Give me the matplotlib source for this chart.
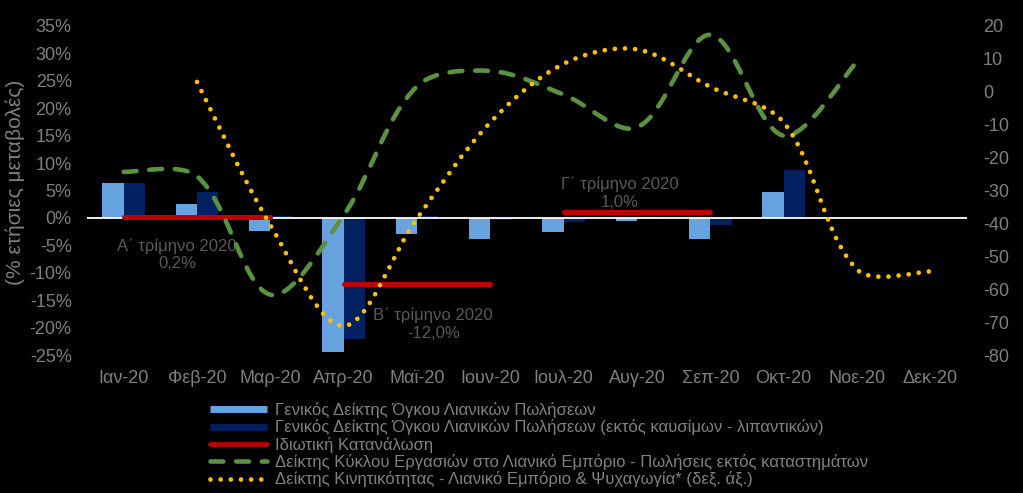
import numpy as np
import matplotlib
matplotlib.use("Agg")
import matplotlib.pyplot as plt
from matplotlib.path import Path
from matplotlib.patches import PathPatch
from matplotlib.lines import Line2D

plt.rcParams['font.family'] = ['Liberation Sans', 'DejaVu Sans']

# ---------------- data ----------------
months = ["Ιαν-20", "Φεβ-20", "Μαρ-20", "Απρ-20", "Μαϊ-20", "Ιουν-20",
          "Ιουλ-20", "Αυγ-20", "Σεπ-20", "Οκτ-20", "Νοε-20", "Δεκ-20"]

retail_volume = [6.4, 2.6, -2.3, -24.5, -2.9, -3.8, -2.6, -0.5, -3.8, 4.7, np.nan, np.nan]
retail_volume_ex_fuel = [6.4, 4.7, 0.3, -22.0, 0.3, -0.3, -0.7, 0.2, -1.3, 8.7, np.nan, np.nan]

quarter_first_month = [0, 3, 6]
quarter_last_month = [2, 5, 8]
private_consumption = [0.2, -12.0, 1.0]
quarter_labels = ["Α΄ τρίμηνο 2020\n0,2%", "Β΄ τρίμηνο 2020\n-12,0%", "Γ΄ τρίμηνο 2020\n1,0%"]

online_sales = [8.4, 7.6, -14.0, 0.5, 24.0, 26.8, 22.5, 16.5, 33.4, 15.0, 28.5, np.nan]
mobility_retail = [np.nan, 3.0, -40.5, -71.2, -38.5, -9.3, 8.5, 12.9, 1.5, -9.3, -54.0, -54.6]

legend_labels = [
    "Γενικός Δείκτης Όγκου Λιανικών Πωλήσεων",
    "Γενικός Δείκτης Όγκου Λιανικών Πωλήσεων (εκτός καυσίμων - λιπαντικών)",
    "Ιδιωτική Κατανάλωση",
    "Δείκτης Κύκλου Εργασιών στο Λιανικό Εμπόριο - Πωλήσεις εκτός καταστημάτων",
    "Δείκτης Κινητικότητας - Λιανικό Εμπόριο & Ψυχαγωγία* (δεξ. άξ.)",
]
left_ticks = list(range(-25, 36, 5))
right_ticks = list(range(-80, 21, 10))
y_label = "(% ετήσιες μεταβολές)"

# ---------------- style ----------------
C_LIGHT = "#67A3DF"
C_DARK = "#002060"
C_RED = "#C00000"
C_GREEN = "#5B9240"
C_YELLOW = "#FFC000"
C_TICK = "#7F7F7F"
C_ANN = "#595959"


def smooth_path(axis, xs, ys):
    """Excel-like smoothed line: cubic Bezier segments whose control arms are
    computed in screen space (chord-length weighted Catmull-Rom)."""
    trans = axis.transData
    pts = trans.transform(np.column_stack([xs, ys]).astype(float))
    n = len(pts)
    seg = np.linalg.norm(np.diff(pts, axis=0), axis=1)
    verts = [pts[0]]
    codes = [Path.MOVETO]
    for i in range(n - 1):
        p1, p2 = pts[i], pts[i + 1]
        d12 = seg[i]
        if i == 0:
            c1 = p1 + (p2 - p1) / 6.0
        else:
            d01 = seg[i - 1]
            c1 = p1 + (p2 - pts[i - 1]) * d12 / (d01 + d12) / 3.0
        if i + 2 >= n:
            c2 = p2 - (p2 - p1) / 6.0
        else:
            d23 = seg[i + 1]
            c2 = p2 - (pts[i + 2] - p1) * d12 / (d12 + d23) / 3.0
        verts += [c1, c2, p2]
        codes += [Path.CURVE4] * 3
    verts = trans.inverted().transform(np.array(verts))
    return Path(verts, codes)


fig = plt.figure(figsize=(10.23, 4.93), dpi=100, facecolor="black")
ax = fig.add_axes([87 / 1023, 1 - 355 / 493, 880 / 1023, 329 / 493])
ax.set_facecolor("black")
ax2 = ax.twinx()
ax2.set_facecolor("none")

x = np.arange(len(months))
ax.set_xlim(-0.5, len(months) - 0.5)
ax.set_ylim(-25, 35)
ax2.set_ylim(-80, 20)

w = 0.29
ax.bar(x - w / 2, retail_volume, w, color=C_LIGHT, zorder=2)
ax.bar(x + w / 2, retail_volume_ex_fuel, w, color=C_DARK, zorder=2)
ax.axhline(0, color="white", lw=1.3, zorder=3)

for a, b, v in zip(quarter_first_month, quarter_last_month, private_consumption):
    ax.plot([x[a], x[b]], [v, v], color=C_RED, lw=3.6, solid_capstyle="round", zorder=4)

ann_pos = [(0.73, -6.7), (4.22, -19.4), (6.77, 4.5)]
for (px, py), txt in zip(ann_pos, quarter_labels):
    ax.text(px, py, txt, ha="center", va="center", color=C_ANN, fontsize=12,
            linespacing=1.2, zorder=5)

ax.set_xlim(-0.5, len(months) - 0.5)
ax.set_ylim(-25, 35)
ax2.set_ylim(-80, 20)

g = np.array(online_sales, dtype=float)
m = ~np.isnan(g)
green_patch = PathPatch(smooth_path(ax, x[m], g[m]), fill=False, edgecolor=C_GREEN,
                        lw=3.3, linestyle=(0, (2.8, 2.8)), capstyle="round",
                        joinstyle="round", transform=ax.transData, zorder=6)
ax.add_patch(green_patch)

yv = np.array(mobility_retail, dtype=float)
m2 = ~np.isnan(yv)
yellow_patch = PathPatch(smooth_path(ax2, x[m2], yv[m2]), fill=False, edgecolor=C_YELLOW,
                         lw=3.4, linestyle=(0, (0.001, 2.15)), capstyle="round",
                         joinstyle="round", transform=ax2.transData, zorder=6)
ax2.add_patch(yellow_patch)

ax.set_xticks(x)
ax.set_xticklabels(months)
ax.set_yticks(left_ticks)
ax.set_yticklabels([f"{v}%" for v in left_ticks])
ax2.set_yticks(right_ticks)
ax2.set_yticklabels([str(v) for v in right_ticks])

for a in (ax, ax2):
    for s in a.spines.values():
        s.set_visible(False)
ax.tick_params(axis="x", length=0, pad=11, labelsize=13, labelcolor=C_TICK)
ax.tick_params(axis="y", length=0, pad=11, labelsize=13, labelcolor=C_TICK)
ax2.tick_params(axis="y", length=0, pad=11.5, labelsize=13, labelcolor=C_TICK)

fig.text(15 / 1023, 1 - 182 / 493, y_label, rotation=90, ha="center", va="center",
         color=C_TICK, fontsize=15)

handles = [
    Line2D([], [], color=C_LIGHT, lw=5, solid_capstyle="butt"),
    Line2D([], [], color=C_DARK, lw=5, solid_capstyle="butt"),
    Line2D([], [], color=C_RED, lw=3.4, solid_capstyle="round"),
    Line2D([], [], color=C_GREEN, lw=3.3, linestyle=(0, (2.8, 2.8)), dash_capstyle="round"),
    Line2D([], [], color=C_YELLOW, lw=3.4, linestyle=(0, (0.001, 2.15)), dash_capstyle="round"),
]
fig.legend(handles, legend_labels, loc="upper left",
           bbox_to_anchor=(210 / 1023, 1 - 402 / 493), frameon=False, fontsize=12,
           handlelength=3.4, handletextpad=0.5, labelspacing=0.08, borderpad=0,
           borderaxespad=0, labelcolor="#808080")

fig.savefig("out.png", dpi=100, facecolor="black")
